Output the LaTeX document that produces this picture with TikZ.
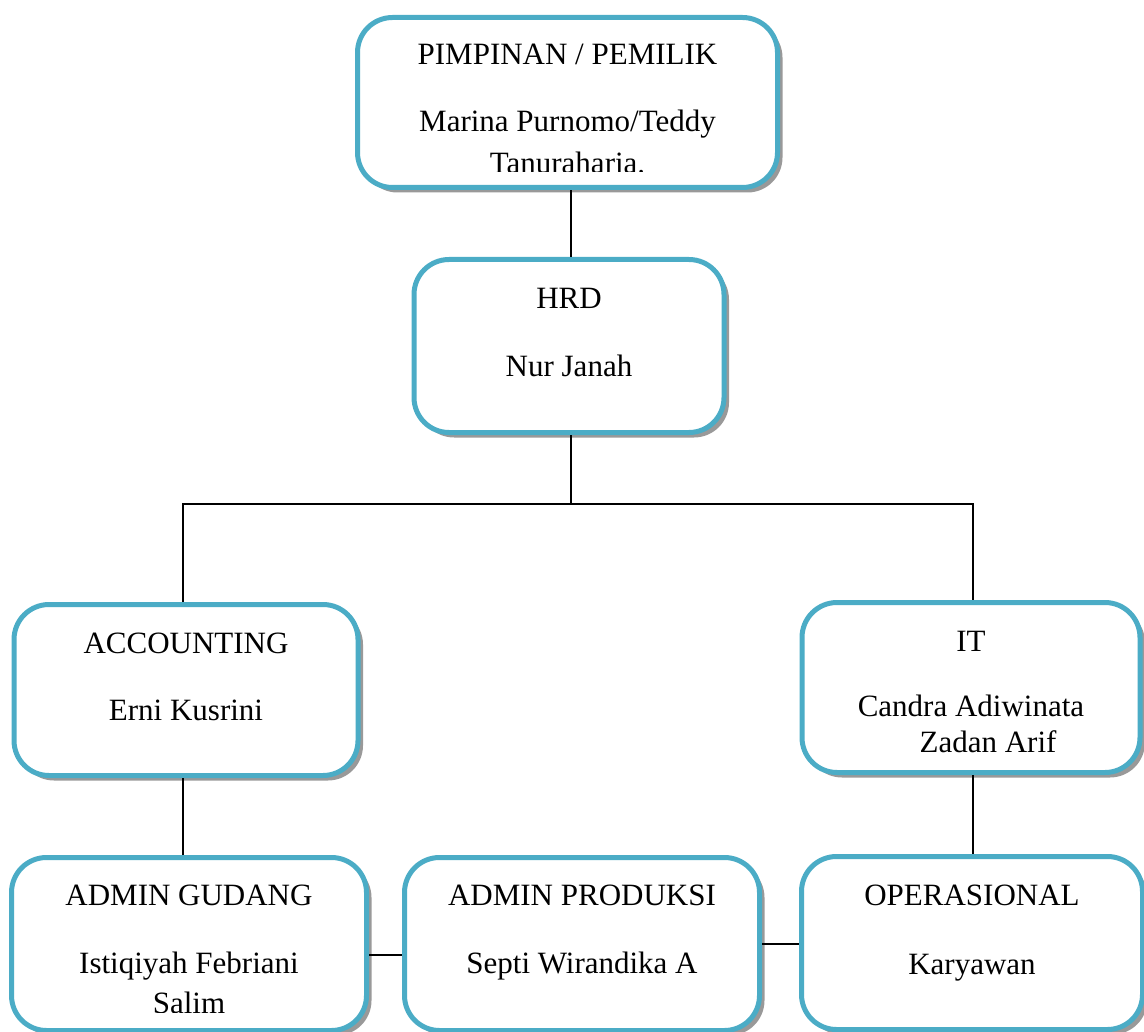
\documentclass[tikz,border=0pt]{standalone}
\usepackage{fontspec}
\setmainfont{Liberation Serif}
\usetikzlibrary{shadows}

\definecolor{boxblue}{RGB}{75,172,198}

\tikzset{
  orgbox/.style={draw=boxblue, line width=5pt, rounded corners=35pt, fill=white,
    drop shadow={fill=black!40, opacity=1, shadow xshift=5pt, shadow yshift=-5pt}},
  jabatan/.style={anchor=base, font=\fontsize{31}{40}\selectfont, inner sep=0pt},
  nama/.style={anchor=base, align=center, font=\fontsize{31}{40}\selectfont, inner sep=0pt},
  garis/.style={line width=1.5pt}
}

\begin{document}
\begin{tikzpicture}[x=1pt,y=-1pt]
  \useasboundingbox (0,0) rectangle (1144,1032);

  % kotak jabatan
  \node[orgbox, minimum width=420pt, minimum height=170pt] (pemilik) at (567.5,102.5) {};
  \node[orgbox, minimum width=310pt, minimum height=173pt] (hrd) at (569,346) {};
  \node[orgbox, minimum width=344pt, minimum height=171pt] (accounting) at (186,690) {};
  \node[orgbox, minimum width=338pt, minimum height=170pt] (it) at (971,687.5) {};
  \node[orgbox, minimum width=355pt, minimum height=173pt] (gudang) at (189,944) {};
  \node[orgbox, minimum width=355pt, minimum height=173pt] (produksi) at (582,944) {};
  \node[orgbox, minimum width=341pt, minimum height=173pt] (operasional) at (972,943) {};

  % teks (base = garis dasar baris terakhir)
  \begin{scope}
    \clip (pemilik.north west) rectangle ([yshift=18pt]pemilik.south east);
    \node[jabatan] (pemilik-j) at ([yshift=-50pt]pemilik.north) {PIMPINAN / PEMILIK};
    \node[nama, font=\fontsize{31}{42}\selectfont] (pemilik-n) at ([yshift=-158.5pt]pemilik.north) {Marina Purnomo/Teddy\\Tanuraharia.};
  \end{scope}
  \node[jabatan] (hrd-j) at ([yshift=-52pt]hrd.north) {HRD};
  \node[nama] (hrd-n) at ([yshift=-120pt]hrd.north) {Nur Janah};
  \node[jabatan] (accounting-j) at ([yshift=-51.5pt]accounting.north) {ACCOUNTING};
  \node[nama] (accounting-n) at ([yshift=-118.5pt]accounting.north) {Erni Kusrini};
  \node[jabatan] (it-j) at ([yshift=-51.5pt]it.north) {IT};
  \node[nama, font=\fontsize{31}{36}\selectfont] (it-n) at ([yshift=-152.5pt]it.north) {Candra Adiwinata\\\hspace*{1.1em}Zadan Arif};
  \begin{scope}
    \clip (gudang.north west) rectangle ([yshift=20.5pt]gudang.south east);
    \node[jabatan] (gudang-j) at ([yshift=-50.5pt]gudang.north) {ADMIN GUDANG};
    \node[nama] (gudang-n) at ([yshift=-158.5pt]gudang.north) {Istiqiyah Febriani\\Salim};
  \end{scope}
  \node[jabatan] (produksi-j) at ([yshift=-50.5pt]produksi.north) {ADMIN PRODUKSI};
  \node[nama] (produksi-n) at ([yshift=-118.5pt]produksi.north) {Septi Wirandika A};
  \node[jabatan] (operasional-j) at ([yshift=-51.5pt]operasional.north) {OPERASIONAL};
  \node[nama] (operasional-n) at ([yshift=-120pt]operasional.north) {Karyawan};

  % garis penghubung
  \coordinate (bus) at (571,504);
  \draw[garis] (hrd.north -| bus) -- (pemilik.south -| bus);
  \draw[garis] (hrd.south -| bus) -- (bus);
  \draw[garis] ([xshift=-3pt]accounting.north) |- (bus) -| ([xshift=2pt]it.north);
  \draw[garis] ([xshift=-3pt]accounting.south) -- ([xshift=-3pt]accounting.south |- gudang.north);
  \draw[garis] ([xshift=2pt]it.south) -- ([xshift=2pt]it.south |- operasional.north);
  \draw[garis] ([yshift=-11pt]gudang.east) -- ([yshift=-11pt]produksi.west);
  \draw[garis] (produksi.east) -- (produksi.east -| operasional.west);
\end{tikzpicture}
\end{document}
